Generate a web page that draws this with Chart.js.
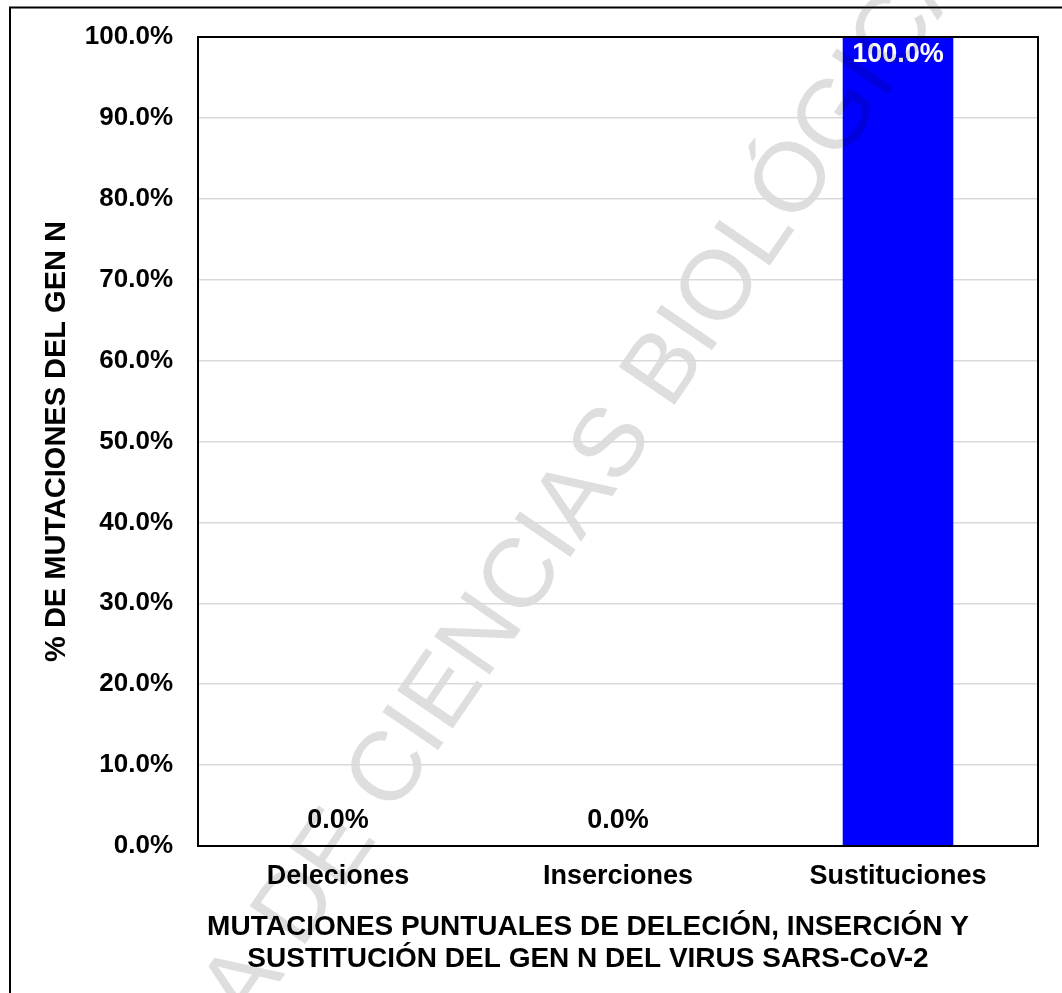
<!DOCTYPE html>
<html>
<head>
<meta charset="utf-8">
<title>Mutaciones del gen N</title>
<script src="https://cdn.jsdelivr.net/npm/chart.js@4.4.1/dist/chart.umd.min.js"></script>
<style>
  body { margin: 0; background: #fff; }
  canvas { display: block; }
</style>
</head>
<body>
<canvas id="bar-chart" width="1062" height="993"></canvas>
<script>
// data
var categories = ["Deleciones", "Inserciones", "Sustituciones"];
var percentValues = [0, 0, 100];
var yTickValues = [0, 10, 20, 30, 40, 50, 60, 70, 80, 90, 100];
var yTitle = "% DE MUTACIONES DEL GEN N";
var xTitleLines = ["MUTACIONES PUNTUALES DE DELECIÓN, INSERCIÓN Y", "SUSTITUCIÓN DEL GEN N DEL VIRUS SARS-CoV-2"];
var watermark = ["BIBLIOTECA DE ", "CIENCIAS BIOLÓGICAS"];

var fontFamily = "Arial, 'Liberation Sans', Helvetica, sans-serif";

function pct(v) {
    return v.toFixed(1) + "%";
}

// frame round the plot and the outer box
var framePlugin = {
    id: "frame",
    beforeDraw: function (chart) {
        var ctx = chart.ctx;
        ctx.save();
        ctx.fillStyle = "#ffffff";
        ctx.fillRect(0, 0, chart.width, chart.height);
        ctx.strokeStyle = "#000000";
        ctx.lineWidth = 2;
        ctx.beginPath();
        ctx.moveTo(10, 1000);
        ctx.lineTo(10, 7.5);
        ctx.lineTo(1062, 7.5);
        ctx.stroke();
        ctx.restore();
    },
    afterDatasetsDraw: function (chart) {
        var a = chart.chartArea;
        var ctx = chart.ctx;
        ctx.save();
        ctx.strokeStyle = "#000000";
        ctx.lineWidth = 2;
        ctx.strokeRect(a.left, a.top, a.right - a.left, a.bottom - a.top);
        ctx.restore();
    }
};

// value labels on the bars
var labelPlugin = {
    id: "barLabels",
    afterDatasetsDraw: function (chart) {
        var ctx = chart.ctx;
        var meta = chart.getDatasetMeta(0);
        ctx.save();
        ctx.font = "bold 27px " + fontFamily;
        ctx.textAlign = "center";
        ctx.textBaseline = "middle";
        meta.data.forEach(function (bar, i) {
            var v = percentValues[i];
            if (v > 50) {
                ctx.fillStyle = "#ffffff";
                ctx.fillText(pct(v), bar.x, bar.y + 18);
            } else {
                ctx.fillStyle = "#000000";
                ctx.fillText(pct(v), bar.x, bar.y - 25);
            }
        });
        ctx.restore();
    }
};

// two line title under the x axis
var xTitlePlugin = {
    id: "xTitle",
    afterDraw: function (chart) {
        var ctx = chart.ctx;
        ctx.save();
        ctx.font = "bold 28px " + fontFamily;
        ctx.fillStyle = "#000000";
        ctx.textAlign = "center";
        ctx.textBaseline = "middle";
        ctx.fillText(xTitleLines[0], 588, 927);
        ctx.fillText(xTitleLines[1], 588, 959);
        ctx.restore();
    }
};

// grey diagonal watermark on top of everything
var watermarkPlugin = {
    id: "watermark",
    afterDraw: function (chart) {
        var ctx = chart.ctx;
        ctx.save();
        ctx.globalCompositeOperation = "darken";
        ctx.fillStyle = "#dedede";
        ctx.font = "98px " + fontFamily;
        ctx.translate(393, 816);
        ctx.rotate(-55.6 * Math.PI / 180);
        ctx.textBaseline = "alphabetic";
        ctx.textAlign = "right";
        ctx.fillText(watermark[0], 0, 0);
        ctx.textAlign = "left";
        ctx.fillText(watermark[1], 0, 0);
        ctx.restore();
    }
};

var ctx = document.getElementById("bar-chart").getContext("2d");
var chart = new Chart(ctx, {
    type: "bar",
    data: {
        labels: categories,
        datasets: [{
            data: percentValues,
            backgroundColor: "#0000ff",
            borderWidth: 0,
            barPercentage: 0.395,
            categoryPercentage: 1
        }]
    },
    options: {
        responsive: false,
        animation: false,
        layout: {
            padding: { left: 0, top: 37, right: 24, bottom: 0 }
        },
        plugins: {
            legend: { display: false },
            tooltip: { enabled: false },
            title: { display: false }
        },
        scales: {
            x: {
                grid: { display: false, drawTicks: false },
                border: { display: false },
                ticks: {
                    color: "#000000",
                    padding: 14,
                    font: { family: fontFamily, size: 27, weight: "bold" }
                },
                afterFit: function (scale) {
                    scale.height = 147;
                    scale.paddingLeft = 0;
                    scale.paddingRight = 0;
                }
            },
            y: {
                min: 0,
                max: 100,
                afterBuildTicks: function (scale) {
                    scale.ticks = yTickValues.map(function (v) { return { value: v }; });
                },
                grid: { color: "#d9d9d9", lineWidth: 1.5, drawTicks: false },
                border: { display: false },
                ticks: {
                    color: "#000000",
                    padding: 25,
                    font: { family: fontFamily, size: 26, weight: "bold" },
                    callback: function (v) { return pct(v); }
                },
                title: {
                    display: true,
                    text: yTitle,
                    color: "#000000",
                    padding: { top: 40, bottom: 0 },
                    font: { family: fontFamily, size: 29, weight: "bold" }
                },
                afterFit: function (scale) {
                    scale.width = 198;
                    scale.paddingTop = 0;
                    scale.paddingBottom = 0;
                }
            }
        }
    },
    plugins: [framePlugin, labelPlugin, xTitlePlugin, watermarkPlugin]
});
</script>
</body>
</html>
